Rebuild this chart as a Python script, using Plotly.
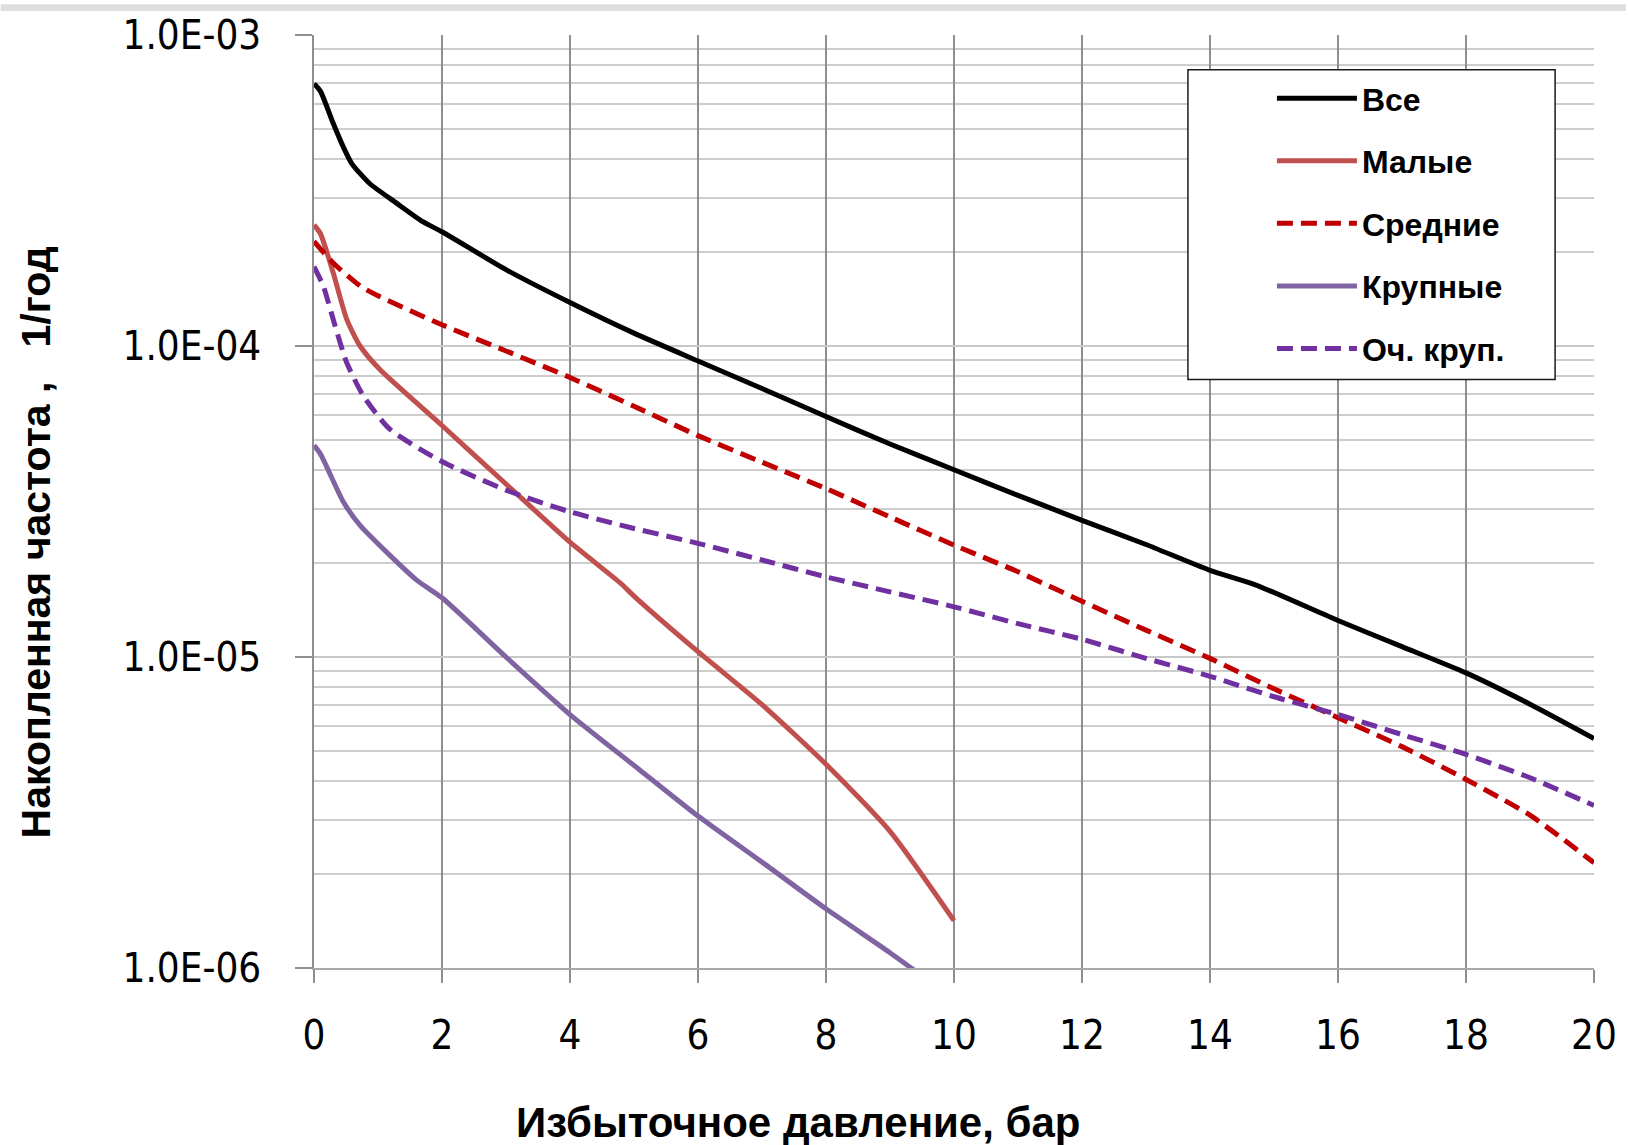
import plotly.graph_objects as go

# ---------------- data ----------------
vse_x = [0, 0.1, 0.3, 0.45, 0.59, 0.87, 1.29, 1.7, 2, 3, 4, 5, 6, 7, 8, 9, 10, 11, 12, 13, 14, 14.7, 16, 17, 18, 19, 20]
vse_y = [6.97e-4, 6.6e-4, 5.2e-4, 4.4e-4, 3.86e-4, 3.33e-4, 2.88e-4, 2.51e-4, 2.33e-4, 1.76e-4, 1.38e-4,
         1.10e-4, 8.95e-5, 7.3e-5, 5.93e-5, 4.84e-5, 4.0e-5, 3.31e-5, 2.75e-5, 2.30e-5, 1.90e-5,
         1.71e-5, 1.31e-5, 1.08e-5, 8.89e-6, 7.05e-6, 5.47e-6]

malye_x = [0, 0.1, 0.3, 0.51, 0.72, 1.03, 2, 3, 4, 4.8, 5, 6, 7, 8, 9, 10]
malye_y = [2.45e-4, 2.3e-4, 1.72e-4, 1.22e-4, 1.0e-4, 8.4e-5, 5.55e-5, 3.6e-5, 2.34e-5, 1.72e-5,
           1.57e-5, 1.04e-5, 7.03e-6, 4.52e-6, 2.75e-6, 1.42e-6]

srednie_x = [0, 0.3, 0.72, 1, 2, 3, 4, 5, 6, 7, 8, 9, 10, 11, 12, 13, 14, 15, 16, 17, 18, 19, 20]
srednie_y = [2.17e-4, 1.85e-4, 1.56e-4, 1.45e-4, 1.17e-4, 9.64e-5, 7.92e-5, 6.4e-5, 5.15e-5, 4.23e-5,
             3.48e-5, 2.82e-5, 2.29e-5, 1.88e-5, 1.51e-5, 1.22e-5, 9.9e-6, 7.9e-6, 6.38e-6, 5.15e-6,
             4.04e-6, 3.1e-6, 2.18e-6]

krupnye_x = [0, 0.1, 0.46, 0.72, 1.6, 2, 3, 4, 5.08, 6, 7, 8, 9, 9.45]
krupnye_y = [4.79e-5, 4.5e-5, 3.15e-5, 2.65e-5, 1.77e-5, 1.55e-5, 1.0e-5, 6.53e-6, 4.35e-6, 3.08e-6,
             2.19e-6, 1.55e-6, 1.12e-6, 9.6e-7]

ochkrup_x = [0, 0.145, 0.33, 0.51, 0.77, 1.18, 2, 3, 4, 5, 6, 7, 8, 9, 10, 11, 12, 13, 14, 15, 16, 17, 18, 19, 20]
ochkrup_y = [1.80e-4, 1.56e-4, 1.16e-4, 8.85e-5, 6.92e-5, 5.41e-5, 4.25e-5, 3.44e-5, 2.93e-5, 2.59e-5,
             2.32e-5, 2.05e-5, 1.81e-5, 1.62e-5, 1.45e-5, 1.28e-5, 1.14e-5, 9.9e-6, 8.67e-6, 7.45e-6,
             6.53e-6, 5.63e-6, 4.86e-6, 4.09e-6, 3.33e-6]

series_names = ["Все", "Малые", "Средние", "Крупные", "Оч. круп."]

x_tickvals = [0, 2, 4, 6, 8, 10, 12, 14, 16, 18, 20]
x_ticktext = ["0", "2", "4", "6", "8", "10", "12", "14", "16", "18", "20"]
y_tickvals = [1e-6, 1e-5, 1e-4, 1e-3]
y_ticktext = ["1.0E-06", "1.0E-05", "1.0E-04", "1.0E-03"]
y_minor = [m * 10 ** e for e in (-6, -5, -4) for m in range(2, 10)]

x_title = "Избыточное давление, бар"
y_title = "Накопленная частота ,\u00a0\u00a0\u00a01/год"

# ---------------- figure ----------------
styles = [
    ("#000000", "solid"),
    ("#C0504D", "solid"),
    ("#C00000", "16px,8px"),
    ("#8064A2", "solid"),
    ("#7030A0", "16px,8px"),
]
data = [(vse_x, vse_y), (malye_x, malye_y), (srednie_x, srednie_y),
        (krupnye_x, krupnye_y), (ochkrup_x, ochkrup_y)]

fig = go.Figure()
for name, (xs, ys), (color, dash) in zip(series_names, data, styles):
    fig.add_trace(go.Scatter(
        x=xs, y=ys, mode="lines", name=name, legendgroup=name,
        line=dict(color=color, width=5, dash=dash, shape="spline", smoothing=0.6),
    ))

L, R, T, B = 314, 1597, 31, 968
W, H = 1629, 1145
pw, ph = R - L, B - T


def px(xp):
    return (xp - L) / pw


def py(yp):
    return (B - yp) / ph


TICKFONT = "DejaVu Sans Condensed, Liberation Sans, sans-serif"

fig.update_layout(
    width=W, height=H,
    margin=dict(l=L, r=W - R, t=T, b=H - B, pad=0),
    paper_bgcolor="white", plot_bgcolor="white",
    showlegend=True,
    legend=dict(
        x=px(1196), y=py(67), xanchor="left", yanchor="top",
        bgcolor="rgba(0,0,0,0)", borderwidth=0,
        font=dict(family="Liberation Sans", size=32, color="black", weight="bold"),
        itemwidth=80, indentation=78, tracegroupgap=18,
    ),
    xaxis=dict(
        range=[0, 20], tickvals=x_tickvals, ticktext=x_ticktext,
        showgrid=True, gridcolor="#8E8E8E", gridwidth=1.5,
        ticks="outside", ticklen=13, tickcolor="#8E8E8E", tickwidth=1.5,
        showline=True, linecolor="#A8A8A8", linewidth=1.5, zeroline=False,
        tickfont=dict(family=TICKFONT, size=40, color="black"),
        ticklabelstandoff=18,
    ),
    yaxis=dict(
        type="log", range=[-6, -3], tickvals=y_tickvals, ticktext=y_ticktext,
        showgrid=True, gridcolor="#C8C8C8", gridwidth=1.5,
        minor=dict(tickvals=y_minor, showgrid=True, gridcolor="#CDCDCD", gridwidth=1.5, ticks=""),
        ticks="outside", ticklen=17, tickcolor="#8E8E8E", tickwidth=1.5,
        showline=True, linecolor="#8E8E8E", linewidth=1.5, zeroline=False,
        tickfont=dict(family=TICKFONT, size=40, color="black"),
        ticklabelstandoff=26,
    ),
    shapes=[
        dict(type="rect", xref="paper", yref="paper",
             x0=px(1190), x1=px(1558), y0=py(377), y1=py(66),
             fillcolor="white", line=dict(color="#1A1A1A", width=1.5), layer="above"),
        dict(type="rect", xref="paper", yref="paper",
             x0=px(0), x1=px(1629), y0=py(7), y1=py(0),
             fillcolor="#DEDEDE", line=dict(width=0), layer="above"),
    ],
    annotations=[
        dict(text=y_title, xref="paper", yref="paper", x=px(35), y=py(541),
             xanchor="center", yanchor="middle", textangle=-90, showarrow=False,
             font=dict(family="Liberation Sans", size=41, color="black", weight="bold")),
        dict(text=x_title, xref="paper", yref="paper", x=px(800), y=py(1123),
             xanchor="center", yanchor="middle", showarrow=False,
             font=dict(family="Liberation Sans", size=42, color="black", weight="bold")),
    ],
)

fig.write_html("out.html")
